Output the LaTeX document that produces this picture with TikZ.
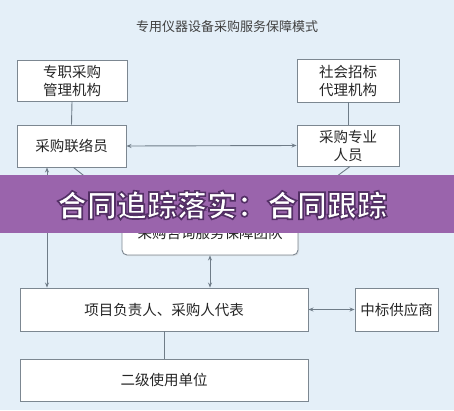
\documentclass[tikz,border=0pt]{standalone}
\usepackage{fontspec}
\newfontfamily\cjk{Noto Sans CJK SC}
\usetikzlibrary{arrows.meta,shadows}
\definecolor{bg}{HTML}{E4EFF8}
\definecolor{edge}{HTML}{7C8791}
\definecolor{linec}{HTML}{6F7C88}
\definecolor{band}{HTML}{9A64AC}
\newcommand\outlinedtext[1]{\special{pdf:literal 2 Tr 1.6 w 0.33 0.19 0.40 RG}#1\special{pdf:literal 0 Tr}}
\tikzset{
  box/.style={draw=edge, line width=0.9pt, fill=white, inner sep=0pt,
    align=center, font=\cjk\fontsize{14.5}{18}\selectfont, text=black!85,
    drop shadow={shadow xshift=1.2pt, shadow yshift=-1.2pt, fill=black!18}},
  conn/.style={draw=linec, line width=0.9pt},
  bothtip/.style={{Stealth[length=5pt,width=4pt]}-{Stealth[length=5pt,width=4pt]}},
  bandtext/.style={font=\cjk\bfseries\fontsize{30}{30}\selectfont, inner sep=0pt},
}
\begin{document}
\begin{tikzpicture}[x=1pt,y=-1pt]
\fill[bg] (0,0) rectangle (454,410);
\useasboundingbox (0,0) rectangle (454,410);
\node[font=\cjk\fontsize{13}{13}\selectfont, text=black!75] (title) at (227,27) {专用仪器设备采购服务保障模式};
\node[box, minimum width=110pt, minimum height=41pt] (b1) at (72,80.5) {专职采购\\管理机构};
\node[box, minimum width=102pt, minimum height=43pt] (b2) at (348,80.5) {社会招标\\代理机构};
\node[box, minimum width=109pt, minimum height=42pt] (b3) at (71.5,146) {采购联络员};
\node[box, minimum width=102pt, minimum height=41pt] (b4) at (348,145.5) {采购专业\\人员};
\node[box, rounded corners=5pt, minimum width=176pt, minimum height=43pt] (c) at (210,233.5) {采购咨询服务保障团队};
\node[box, minimum width=288pt, minimum height=43pt] (b5) at (164,309.5) {项目负责人、采购人代表};
\node[box, minimum width=83pt, minimum height=43pt] (b6) at (396.5,309.5) {中标供应商};
\node[box, minimum width=288pt, minimum height=42pt] (b7) at (164,380) {二级使用单位};
\coordinate (lx) at (47,0);
\coordinate (cl) at (130,212);
\coordinate (cr) at (289,212);
\draw[conn] (b1.south) -- (b3.north);
\draw[conn] (b2.south) -- (b4.north);
\draw[conn, bothtip] (b3.east) -- (b4.west);
\draw[conn, bothtip] (b3.south -| lx) -- (b5.north -| lx);
\draw[conn] (b3.south) ++(2,0) -- (cl);
\draw[conn] (b4.south) ++(2,0) -- (cr);
\draw[conn, bothtip] (c.south) -- (c.south |- b5.north);
\draw[conn, bothtip] (b5.east) -- (b6.west);
\draw[conn] (b5.south) -- (b7.north);
\fill[band] (0,175) rectangle (454,233);
\node[bandtext, text=white] (banner) at (222,205) {\outlinedtext{合同追踪落实：合同跟踪}};
\end{tikzpicture}
\end{document}
